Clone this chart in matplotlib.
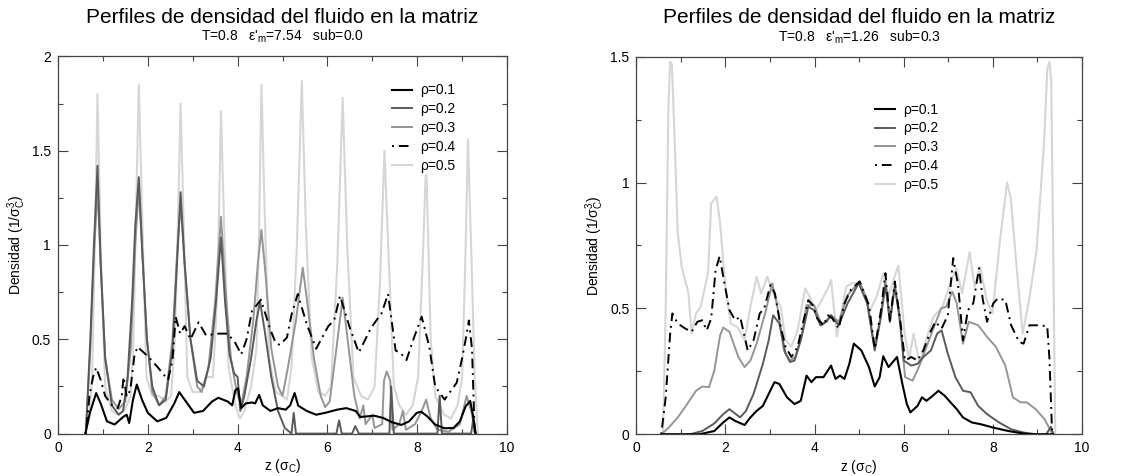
import numpy as np
import matplotlib
matplotlib.use('Agg')
from matplotlib import pyplot as plt
from matplotlib.ticker import MultipleLocator, FormatStrFormatter

plt.rcParams['font.family'] = ['Liberation Sans', 'DejaVu Sans']
plt.rcParams['mathtext.fontset'] = 'custom'
plt.rcParams['mathtext.rm'] = 'Liberation Sans'
plt.rcParams['mathtext.it'] = 'Liberation Sans:italic'

labels = ['ρ=0.1', 'ρ=0.2', 'ρ=0.3', 'ρ=0.4', 'ρ=0.5']
title = 'Perfiles de densidad del fluido en la matriz'
sub_left = "T=0.8   ε'$_{\\rm m}$=7.54   sub=0.0"
sub_right = "T=0.8   ε'$_{\\rm m}$=1.26   sub=0.3"

# left panel (sub=0.0)
a_z1 = [0.61, 0.71, 0.85, 0.95, 1.09, 1.26, 1.46, 1.53, 1.585, 1.67, 1.755, 1.87, 2.0, 2.21, 2.41, 2.59, 2.70,
        2.82, 3.03, 3.23, 3.43, 3.57, 3.78, 3.88, 3.95, 4.01, 4.08, 4.18, 4.32, 4.39, 4.48, 4.56, 4.73, 4.90,
        5.07, 5.17, 5.27, 5.35, 5.54, 5.75, 5.95, 6.22, 6.42, 6.63, 6.73, 7.04, 7.24, 7.44, 7.65, 7.82, 7.99,
        8.09, 8.23, 8.40, 8.61, 8.81, 8.95, 9.08, 9.18, 9.24, 9.30]
a_v1 = [0, 0.11, 0.215, 0.16, 0.065, 0.048, 0.09, 0.10, 0.056, 0.18, 0.26, 0.18, 0.11, 0.065, 0.083, 0.16, 0.22,
        0.18, 0.11, 0.12, 0.17, 0.19, 0.17, 0.15, 0.23, 0.24, 0.135, 0.16, 0.165, 0.16, 0.205, 0.15, 0.12, 0.135,
        0.127, 0.15, 0.215, 0.148, 0.12, 0.10, 0.11, 0.127, 0.135, 0.12, 0.088, 0.095, 0.083, 0.06, 0.046, 0.065,
        0.11, 0.116, 0.09, 0.048, 0.028, 0.03, 0.065, 0.145, 0.173, 0.1, 0]

a_z2 = [0.62, 0.72, 0.80, 0.88, 0.95, 1.05, 1.2, 1.35, 1.45, 1.55, 1.65, 1.72, 1.80, 1.88, 1.98, 2.1, 2.25, 2.4,
        2.55, 2.65, 2.73, 2.82, 2.95, 3.1, 3.25, 3.4, 3.52, 3.63, 3.72, 3.82, 3.92, 4.0, 4.06, 4.15, 4.3, 4.42,
        4.50, 4.6, 4.75, 4.9, 5.05, 5.2, 5.25, 5.3, 6.2, 6.26, 6.32, 6.55, 6.62, 6.7, 7.38, 7.42, 7.48, 8.45,
        8.5, 8.55, 9.2, 9.25, 9.3]
a_v2 = [0, 0.5, 1.0, 1.42, 0.9, 0.4, 0.15, 0.10, 0.12, 0.3, 0.7, 1.1, 1.36, 0.95, 0.5, 0.25, 0.15, 0.18,
        0.45, 0.9, 1.28, 0.9, 0.5, 0.28, 0.25, 0.4, 0.7, 1.04, 0.7, 0.42, 0.32, 0.3, 0.12, 0.2, 0.4, 0.6,
        0.70, 0.55, 0.3, 0.12, 0.03, 0.0, 0.11, 0.0, 0.0, 0.07, 0.0, 0.0, 0.04, 0.0, 0.0, 0.25, 0.0, 0.0,
        0.2, 0.0, 0.0, 0.08, 0.0]

a_z3 = [0.62, 0.72, 0.80, 0.88, 0.96, 1.05, 1.2, 1.35, 1.5, 1.62, 1.72, 1.80, 1.88, 1.98, 2.1, 2.25, 2.4, 2.55,
        2.65, 2.73, 2.82, 2.95, 3.1, 3.2, 3.35, 3.5, 3.63, 3.72, 3.85, 3.98, 4.08, 4.2, 4.35, 4.45, 4.53, 4.62,
        4.75, 4.9, 5.0, 5.12, 5.3, 5.45, 5.55, 5.7, 5.85, 5.95, 6.05, 6.2, 6.34, 6.45, 6.6, 6.72, 6.8, 6.85,
        7.0, 7.05, 7.22, 7.26, 7.32, 7.4, 7.45, 7.6, 7.68, 7.75, 7.95, 8.1, 8.2, 8.3, 8.45, 8.7, 8.95, 9.1,
        9.2, 9.3]
a_v3 = [0, 0.45, 0.95, 1.30, 0.85, 0.4, 0.18, 0.13, 0.17, 0.45, 1.0, 1.30, 0.95, 0.5, 0.22, 0.15, 0.2, 0.5,
        0.95, 1.22, 0.9, 0.5, 0.25, 0.22, 0.35, 0.7, 1.15, 0.8, 0.4, 0.22, 0.15, 0.3, 0.6, 0.9, 1.08, 0.85,
        0.45, 0.25, 0.2, 0.35, 0.6, 0.88, 0.7, 0.4, 0.2, 0.14, 0.17, 0.45, 0.72, 0.5, 0.2, 0.08, 0.15, 0.05,
        0.1, 0.03, 0.05, 0.28, 0.33, 0.28, 0.02, 0.05, 0.12, 0.02, 0.05, 0.12, 0.18, 0.08, 0.02, 0.01, 0.05, 0.2,
        0.12, 0.0]

a_z4 = [0.62, 0.70, 0.78, 0.85, 0.95, 1.05, 1.19, 1.33, 1.42, 1.46, 1.53, 1.61, 1.70, 1.77, 2.0, 2.21, 2.45,
        2.55, 2.62, 2.72, 2.82, 2.95, 3.13, 3.3, 3.54, 3.78, 3.95, 4.08, 4.2, 4.32, 4.52, 4.73, 4.85, 4.94,
        5.1, 5.2, 5.34, 5.54, 5.75, 6.02, 6.15, 6.28, 6.5, 6.7, 6.97, 7.21, 7.35, 7.52, 7.62, 7.76, 7.93, 8.1,
        8.27, 8.4, 8.61, 8.88, 9.0, 9.08, 9.15, 9.22, 9.28]
a_v4 = [0, 0.2, 0.30, 0.35, 0.285, 0.20, 0.153, 0.135, 0.2, 0.30, 0.195, 0.23, 0.41, 0.46, 0.41, 0.355, 0.285,
        0.39, 0.62, 0.53, 0.57, 0.50, 0.59, 0.52, 0.53, 0.53, 0.48, 0.42, 0.5, 0.65, 0.71, 0.55, 0.48, 0.47,
        0.51, 0.63, 0.74, 0.58, 0.45, 0.57, 0.6, 0.73, 0.56, 0.43, 0.56, 0.64, 0.74, 0.44, 0.43, 0.39, 0.51, 0.62,
        0.46, 0.25, 0.18, 0.27, 0.4, 0.50, 0.60, 0.45, 0.0]

a_z5 = [0.60, 0.70, 0.76, 0.82, 0.88, 0.95, 1.05, 1.2, 1.35, 1.5, 1.62, 1.68, 1.74, 1.80, 1.87, 1.97, 2.1, 2.25,
        2.4, 2.52, 2.6, 2.67, 2.73, 2.80, 2.88, 3.0, 3.15, 3.3, 3.45, 3.52, 3.58, 3.63, 3.70, 3.8, 3.95, 4.05,
        4.15, 4.3, 4.42, 4.48, 4.53, 4.60, 4.7, 4.85, 5.0, 5.1, 5.2, 5.32, 5.43, 5.52, 5.65, 5.8, 5.95, 6.08,
        6.22, 6.34, 6.44, 6.58, 6.75, 6.9, 7.05, 7.17, 7.27, 7.37, 7.48, 7.6, 7.75, 7.9, 8.02, 8.12, 8.2, 8.3,
        8.4, 8.6, 8.75, 8.9, 9.0, 9.07, 9.13, 9.2, 9.28, 9.35]
a_v5 = [0, 0.10, 0.3, 1.0, 1.80, 1.0, 0.25, 0.12, 0.10, 0.13, 0.2, 0.5, 1.2, 1.85, 1.2, 0.3, 0.2, 0.2,
        0.17, 0.2, 0.5, 1.1, 1.75, 1.1, 0.3, 0.22, 0.22, 0.3, 0.3, 0.6, 1.1, 1.71, 1.1, 0.35, 0.15, 0.08,
        0.12, 0.25, 0.45, 1.1, 1.85, 1.2, 0.4, 0.22, 0.2, 0.18, 0.35, 1.0, 1.87, 1.1, 0.4, 0.22, 0.2, 0.25,
        0.9, 1.78, 1.0, 0.3, 0.2, 0.18, 0.25, 0.8, 1.50, 0.9, 0.25, 0.15, 0.1, 0.15, 0.3, 0.9, 1.45, 0.5,
        0.2, 0.1, 0.08, 0.15, 0.3, 0.9, 1.56, 1.0, 0.3, 0]

# right panel (sub=0.3)
b_z1 = [0.6, 1.41, 1.75, 1.95, 2.09, 2.22, 2.43, 2.56, 2.70, 2.84, 2.97, 3.10, 3.21, 3.38, 3.55, 3.69, 3.82,
        3.93, 4.03, 4.20, 4.37, 4.47, 4.57, 4.67, 4.78, 4.88, 5.05, 5.22, 5.35, 5.46, 5.54, 5.66, 5.85, 5.97,
        6.07, 6.15, 6.31, 6.41, 6.51, 6.65, 6.78, 6.92, 7.05, 7.19, 7.33, 7.53, 7.73, 8.0, 8.35, 8.69, 8.96, 9.35]
b_v1 = [0, 0, 0.013, 0.047, 0.067, 0.053, 0.037, 0.067, 0.093, 0.113, 0.16, 0.207, 0.20, 0.147, 0.12, 0.133,
        0.233, 0.207, 0.227, 0.227, 0.273, 0.22, 0.233, 0.22, 0.28, 0.36, 0.333, 0.267, 0.19, 0.227, 0.31,
        0.267, 0.307, 0.20, 0.12, 0.087, 0.113, 0.147, 0.133, 0.153, 0.173, 0.153, 0.127, 0.10, 0.067, 0.047,
        0.04, 0.027, 0.013, 0.003, 0, 0]

b_z2 = [0.6, 1.20, 1.48, 1.75, 1.95, 2.09, 2.33, 2.46, 2.63, 2.84, 2.97, 3.07, 3.21, 3.35, 3.45, 3.55, 3.69,
        3.86, 3.99, 4.13, 4.27, 4.37, 4.54, 4.74, 4.99, 5.18, 5.35, 5.49, 5.59, 5.69, 5.80, 5.90, 6.0, 6.17,
        6.31, 6.44, 6.61, 6.75, 6.85, 6.99, 7.16, 7.33, 7.50, 7.67, 7.87, 8.14, 8.41, 8.69, 8.96, 9.2, 9.3, 9.36]
b_v2 = [0, 0, 0.013, 0.043, 0.08, 0.10, 0.067, 0.093, 0.16, 0.28, 0.373, 0.473, 0.44, 0.32, 0.287, 0.293,
        0.373, 0.507, 0.493, 0.433, 0.447, 0.473, 0.433, 0.52, 0.60, 0.52, 0.333, 0.467, 0.593, 0.447, 0.587,
        0.48, 0.293, 0.273, 0.28, 0.307, 0.333, 0.40, 0.413, 0.32, 0.227, 0.173, 0.167, 0.113, 0.08, 0.047,
        0.02, 0.007, 0, 0.0, 0.03, 0]

b_z3 = [0.56, 0.73, 0.93, 1.14, 1.34, 1.48, 1.63, 1.75, 1.88, 1.95, 2.09, 2.29, 2.43, 2.56, 2.70, 2.90, 3.05,
        3.18, 3.31, 3.45, 3.57, 3.72, 3.82, 3.99, 4.16, 4.37, 4.54, 4.74, 5.01, 5.18, 5.35, 5.49, 5.59, 5.69,
        5.80, 5.93, 6.03, 6.20, 6.34, 6.48, 6.65, 6.84, 6.95, 7.09, 7.19, 7.33, 7.46, 7.67, 7.87, 8.07, 8.28,
        8.45, 8.62, 8.76, 8.96, 9.16, 9.34]
b_v3 = [0, 0.027, 0.067, 0.12, 0.173, 0.19, 0.187, 0.253, 0.393, 0.424, 0.407, 0.307, 0.267, 0.293, 0.36,
        0.487, 0.60, 0.493, 0.333, 0.293, 0.307, 0.40, 0.513, 0.513, 0.433, 0.473, 0.447, 0.553, 0.607, 0.533,
        0.34, 0.48, 0.607, 0.447, 0.593, 0.427, 0.227, 0.213, 0.267, 0.333, 0.413, 0.50, 0.507, 0.567, 0.52,
        0.36, 0.447, 0.433, 0.387, 0.347, 0.273, 0.147, 0.127, 0.127, 0.10, 0.06, 0]

b_z4 = [0.56, 0.66, 0.76, 0.81, 0.93, 1.10, 1.24, 1.37, 1.48, 1.58, 1.68, 1.78, 1.87, 1.95, 2.09, 2.22, 2.33,
        2.50, 2.63, 2.77, 2.87, 3.01, 3.11, 3.24, 3.35, 3.48, 3.62, 3.72, 3.86, 3.96, 4.06, 4.20, 4.30, 4.40,
        4.54, 4.67, 4.81, 5.01, 5.22, 5.35, 5.49, 5.59, 5.69, 5.80, 5.93, 6.03, 6.17, 6.31, 6.44, 6.58, 6.71,
        6.85, 6.99, 7.11, 7.22, 7.33, 7.44, 7.56, 7.69, 7.77, 7.87, 8.01, 8.11, 8.28, 8.41, 8.59, 8.69, 8.82,
        8.99, 9.22, 9.27, 9.33]
b_v4 = [0, 0.147, 0.40, 0.48, 0.44, 0.42, 0.407, 0.447, 0.453, 0.413, 0.46, 0.653, 0.707, 0.627, 0.493,
        0.453, 0.467, 0.333, 0.373, 0.48, 0.50, 0.593, 0.56, 0.427, 0.347, 0.307, 0.347, 0.427, 0.533, 0.513,
        0.46, 0.433, 0.473, 0.46, 0.42, 0.52, 0.573, 0.607, 0.513, 0.34, 0.493, 0.64, 0.453, 0.607, 0.44,
        0.293, 0.307, 0.293, 0.333, 0.40, 0.447, 0.42, 0.473, 0.70, 0.593, 0.373, 0.493, 0.52, 0.66, 0.54,
        0.447, 0.52, 0.54, 0.533, 0.433, 0.367, 0.36, 0.433, 0.433, 0.43, 0.3, 0]

b_z5 = [0.60, 0.66, 0.72, 0.76, 0.80, 0.86, 0.93, 1.02, 1.17, 1.24, 1.34, 1.44, 1.51, 1.61, 1.68, 1.80, 1.88,
        1.99, 2.12, 2.26, 2.43, 2.56, 2.70, 2.80, 2.94, 3.07, 3.24, 3.35, 3.48, 3.62, 3.79, 3.89, 4.03, 4.16,
        4.30, 4.37, 4.50, 4.71, 4.84, 5.03, 5.24, 5.40, 5.54, 5.65, 5.88, 6.02, 6.12, 6.22, 6.36, 6.50, 6.67,
        6.87, 7.07, 7.18, 7.31, 7.48, 7.59, 7.72, 7.86, 7.99, 8.16, 8.32, 8.40, 8.54, 8.67, 8.81, 8.98, 9.15,
        9.22, 9.27, 9.31, 9.36, 9.40]
b_v5 = [0, 0.5, 1.3, 1.48, 1.47, 1.17, 0.80, 0.665, 0.56, 0.40, 0.48, 0.505, 0.56, 0.64, 0.917, 0.944, 0.84,
        0.60, 0.44, 0.427, 0.374, 0.507, 0.626, 0.56, 0.626, 0.56, 0.507, 0.374, 0.348, 0.414, 0.58, 0.546,
        0.493, 0.533, 0.58, 0.613, 0.387, 0.586, 0.60, 0.60, 0.49, 0.55, 0.64, 0.55, 0.67, 0.40, 0.30, 0.40,
        0.28, 0.375, 0.467, 0.507, 0.61, 0.66, 0.56, 0.724, 0.586, 0.665, 0.533, 0.48, 0.77, 1.0, 0.94, 0.65,
        0.40, 0.53, 0.73, 1.16, 1.45, 1.48, 1.40, 0.64, 0]

colors = ['black', '#5a5a5a', '#959595', 'black', '#d6d6d6']
styles = ['-', '-', '-', (0, (1, 2.5, 5, 2.5)), '-']
widths = [1.5, 1.4, 1.4, 1.4, 1.5]
zorders = [6, 4, 3, 5, 2]

fig = plt.figure(figsize=(11.44, 4.76), dpi=100)
ax1 = fig.add_axes([0.0507, 0.0891, 0.3925, 0.7924])
ax2 = fig.add_axes([0.5562, 0.0876, 0.3896, 0.7933])

left = [(a_z1, a_v1), (a_z2, a_v2), (a_z3, a_v3), (a_z4, a_v4), (a_z5, a_v5)]
right = [(b_z1, b_v1), (b_z2, b_v2), (b_z3, b_v3), (b_z4, b_v4), (b_z5, b_v5)]

for ax, data, ymax, sub, leg_pos in [(ax1, left, 2.0, sub_left, (0.741, 0.932)),
                                     (ax2, right, 1.5, sub_right, (0.533, 0.882))]:
    for i, (z, v) in enumerate(data):
        ax.plot(z, v, color=colors[i], linestyle=styles[i], lw=widths[i], zorder=zorders[i], label=labels[i])
    ax.set_xlim(0, 10)
    ax.set_ylim(0, ymax)
    ax.xaxis.set_major_locator(MultipleLocator(2))
    ax.xaxis.set_minor_locator(MultipleLocator(1))
    ax.yaxis.set_major_locator(MultipleLocator(0.5))
    ax.yaxis.set_minor_locator(MultipleLocator(0.25))
    ax.yaxis.set_major_formatter(FormatStrFormatter('%g'))
    ax.tick_params(which='both', direction='in', top=True, right=True, labelsize=10, color='#444444')
    ax.tick_params(which='major', length=7, width=0.8, pad=5)
    ax.tick_params(which='minor', length=3.5, width=0.8)
    for s in ax.spines.values():
        s.set_color('#444444')
        s.set_linewidth(0.9)
    ax.set_xlabel('z (σ$_{\\rm C}$)', fontsize=10, labelpad=2)
    ax.set_ylabel('Densidad (1/σ$^{3}_{\\rm C}$)', fontsize=10, labelpad=3)
    ax.text(0.5, 1.104, title, transform=ax.transAxes, ha='center', va='center', fontsize=15)
    ax.text(0.5, 1.052, sub, transform=ax.transAxes, ha='center', va='center', fontsize=10)
    leg = ax.legend(loc='upper left', bbox_to_anchor=leg_pos, frameon=True, fontsize=10,
                    handlelength=1.4, handletextpad=0.6, labelspacing=0.35, borderaxespad=0,
                    borderpad=0.1)
    leg.get_frame().set_facecolor('white')
    leg.get_frame().set_edgecolor('none')
    leg.get_frame().set_alpha(1)
    leg.set_zorder(10)

fig.savefig('out.png', dpi=100)
